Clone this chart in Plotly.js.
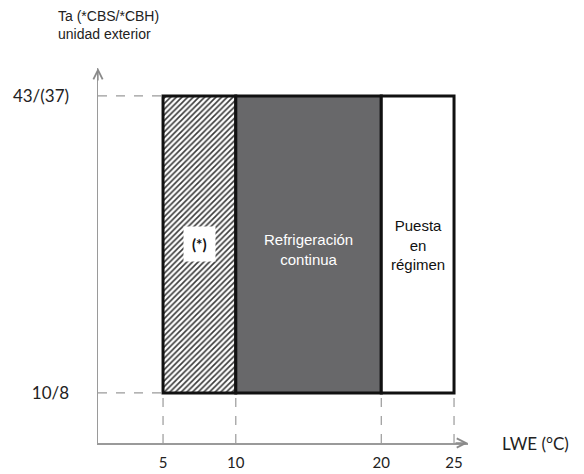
<!DOCTYPE html>
<html>
<head>
<meta charset="utf-8">
<script src="https://cdn.plot.ly/plotly-3.0.1.min.js"></script>
<style>html,body{margin:0;padding:0;background:#fff;}#chart{width:584px;height:474px;}</style>
</head>
<body>
<div id="chart"></div>
<script>
// Data
const lweTicks = [5, 10, 20, 25];
const lweTickLabels = ['5', '10', '20', '25'];
const zoneStart = [5, 10, 20];
const zoneEnd = [10, 20, 25];
const zoneNames = ['(*)', 'Refrigeración<br>continua', 'Puesta<br>en<br>régimen'];
const taMin = 10;
const taMax = 43;
const taTicks = [10, 43];
const taTickLabels = ['10/8', '43/(37)'];

const xRange = [0.53, 25.96];
const yRange = [4.44, 46.1];

const centers = zoneStart.map((s, i) => (s + zoneEnd[i]) / 2);
const widths = zoneStart.map((s, i) => zoneEnd[i] - s);

const zoneStyles = [
  {color: '#ffffff', pattern: {shape: '/', fgcolor: '#3a3a3a', bgcolor: '#ffffff', size: 4, solidity: 0.4, fillmode: 'replace'}},
  {color: '#68686a'},
  {color: '#ffffff'}
];

const traces = zoneStart.map((s, i) => ({
  type: 'bar',
  x: [centers[i]],
  width: [widths[i]],
  base: [taMin],
  y: [taMax - taMin],
  marker: Object.assign({line: {color: '#111111', width: 3}}, zoneStyles[i]),
  hoverinfo: 'skip',
  showlegend: false
}));

const dash = {color: '#9a9a9a', width: 1.2, dash: 'dash'};
const shapes = [];
[taMin, taMax].forEach(v => shapes.push({type: 'line', xref: 'x', yref: 'y', x0: xRange[0], x1: zoneStart[0], y0: v, y1: v, line: dash, layer: 'below'}));
lweTicks.forEach(v => shapes.push({type: 'line', xref: 'x', yref: 'y', x0: v, x1: v, y0: yRange[0], y1: taMin, line: dash, layer: 'below'}));

const textFont = {family: 'Liberation Sans, Arial, sans-serif', size: 15};
const annotations = [
  {xref: 'x', yref: 'y', x: centers[0], y: 26.5, text: '<b>' + zoneNames[0] + '</b>', showarrow: false,
   font: {family: 'Lato, sans-serif', size: 15, color: '#111'}, bgcolor: '#ffffff', borderpad: 8},
  {xref: 'x', yref: 'y', x: centers[1], y: 25.9, text: zoneNames[1], showarrow: false,
   font: Object.assign({}, textFont, {color: '#ffffff'})},
  {xref: 'x', yref: 'y', x: centers[2], y: 26.4, text: zoneNames[2], showarrow: false,
   font: Object.assign({}, textFont, {color: '#111111'})},
  {xref: 'paper', yref: 'paper', x: -0.1135, y: 1.115, xanchor: 'left', yanchor: 'middle', align: 'left',
   text: 'Ta (*CBS/*CBH)<br>unidad exterior', showarrow: false, font: {family: 'Liberation Sans, Arial, sans-serif', size: 14, color: '#222'}},
  {xref: 'paper', yref: 'paper', x: 1.086, y: 0, xanchor: 'left', yanchor: 'middle',
   text: 'LWE (°C)', showarrow: false, font: {family: 'Lato, sans-serif', size: 17, color: '#222'}},
  // axis arrow heads
  {xref: 'paper', yref: 'paper', x: 1, y: 0, ax: -14, ay: 0, text: '', showarrow: true,
   arrowhead: 5, arrowsize: 1.4, arrowwidth: 1.3, arrowcolor: '#8a8a8a'},
  {xref: 'paper', yref: 'paper', x: 0, y: 1, ax: 0, ay: 14, text: '', showarrow: true,
   arrowhead: 5, arrowsize: 1.4, arrowwidth: 1.3, arrowcolor: '#8a8a8a'}
];

const layout = {
  width: 584, height: 474,
  margin: {l: 98, r: 116, t: 68, b: 31},
  paper_bgcolor: '#ffffff', plot_bgcolor: '#ffffff',
  showlegend: false,
  barmode: 'overlay',
  xaxis: {
    range: xRange, showgrid: false, zeroline: false,
    showline: true, linecolor: '#9a9a9a', linewidth: 1.5,
    tickmode: 'array', tickvals: lweTicks, ticktext: lweTickLabels,
    ticks: 'outside', ticklen: 5, tickcolor: 'rgba(0,0,0,0)',
    tickfont: {family: 'Lato, sans-serif', size: 15, color: '#222'}
  },
  yaxis: {
    range: yRange, showgrid: false, zeroline: false,
    showline: true, linecolor: '#9a9a9a', linewidth: 1.5,
    tickmode: 'array', tickvals: taTicks, ticktext: taTickLabels,
    ticks: 'outside', ticklen: 24, tickcolor: 'rgba(0,0,0,0)',
    tickfont: {family: 'Lato, sans-serif', size: 17, color: '#222'}
  },
  shapes: shapes,
  annotations: annotations
};

Plotly.newPlot('chart', traces, layout, {displayModeBar: false, staticPlot: true});
</script>
</body>
</html>
